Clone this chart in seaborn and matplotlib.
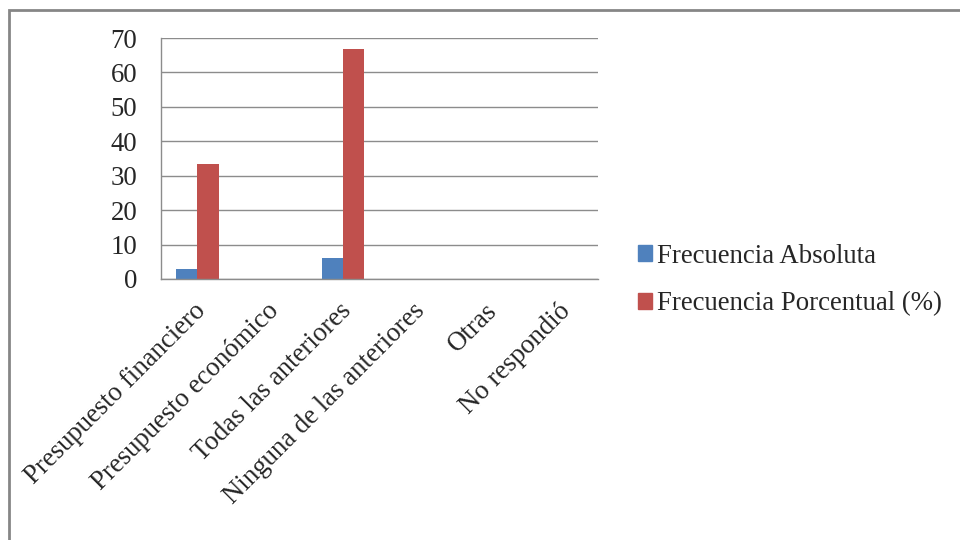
import matplotlib
matplotlib.use("Agg")
import matplotlib.pyplot as plt
import matplotlib.patches as mpatches
import matplotlib.transforms as mtransforms
import seaborn as sns
import pandas as pd

categorias = ["Presupuesto financiero", "Presupuesto económico", "Todas las anteriores",
              "Ninguna de las anteriores", "Otras", "No respondió"]
frec_absoluta = [3, 0, 6, 0, 0, 0]
frec_porcentual = [33.33, 0, 66.67, 0, 0, 0]
series = ["Frecuencia Absoluta", "Frecuencia Porcentual (%)"]
colores = ["#4F81BD", "#C0504D"]
yticks = [0, 10, 20, 30, 40, 50, 60, 70]

df = pd.DataFrame({
    "categoria": categorias * 2,
    "valor": frec_absoluta + frec_porcentual,
    "serie": [series[0]] * len(categorias) + [series[1]] * len(categorias),
})

sns.set_theme(style="white")
plt.rcParams["font.family"] = ["Liberation Serif", "DejaVu Serif"]

fs = 19.3
fig = plt.figure(figsize=(9.6, 5.4), dpi=100)
ax = fig.add_axes([161 / 960, 1 - 279 / 540, (598 - 161) / 960, (279 - 38) / 540])

sns.barplot(data=df, x="categoria", y="valor", hue="serie", palette=colores,
            width=0.58, gap=0, saturation=1, ax=ax, legend=False, edgecolor="none")

ax.set_ylim(0, 70)
ax.set_xlim(-0.5, len(categorias) - 0.5)
ax.set_yticks(yticks)
ax.set_yticklabels([str(t) for t in yticks], fontsize=fs)
ax.yaxis.grid(True, color="#8C8C8C", linewidth=1)
ax.set_axisbelow(True)
ax.set_xlabel("")
ax.set_ylabel("")
ax.tick_params(axis="y", length=0, pad=17)
ax.tick_params(axis="x", length=0, pad=22)
ax.set_xticks(range(len(categorias)))
ax.set_xticklabels(categorias, rotation=45, ha="right", va="center",
                   rotation_mode="anchor", fontsize=fs)
shift = mtransforms.ScaledTranslation(5 / 100, 2 / 100, fig.dpi_scale_trans)
for lbl in ax.get_xticklabels():
    lbl.set_transform(lbl.get_transform() + shift)
for s in ["top", "right"]:
    ax.spines[s].set_visible(False)
for s in ["left", "bottom"]:
    ax.spines[s].set_color("#8C8C8C")
    ax.spines[s].set_linewidth(1)

handles = [mpatches.Patch(color=c, label=l) for c, l in zip(colores, series)]
fig.legend(handles=handles, loc="center left", bbox_to_anchor=(614 / 960, 1 - 280 / 540),
           frameon=False, fontsize=fs, handlelength=0.5, handleheight=0.5,
           handletextpad=0.2, labelspacing=0.85)

# outer chart border
fig.patches.append(mpatches.Rectangle((8.5 / 960, -0.05), 1.1, 1.05 - 9.5 / 540,
                                      transform=fig.transFigure, fill=False,
                                      edgecolor="#868686", linewidth=2))

fig.savefig("out.png", dpi=100)
